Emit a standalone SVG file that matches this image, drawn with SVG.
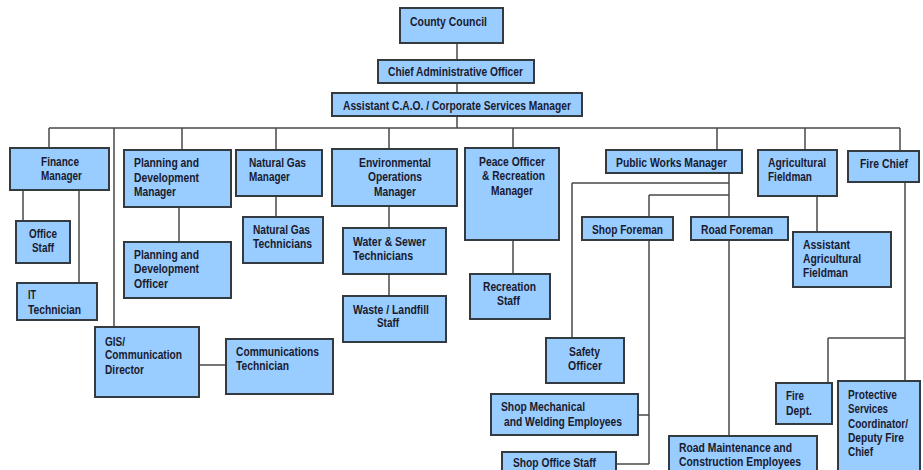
<svg xmlns="http://www.w3.org/2000/svg" width="923" height="470" viewBox="0 0 923 470">
<style>
.b{fill:#99ccff;stroke:#333a40;stroke-width:2}
.c{stroke:#4a4a4a;stroke-width:1.5;fill:none}
text{font-family:"Liberation Sans Narrow","Liberation Sans",Arial,sans-serif;font-weight:bold;font-size:12px;fill:#1a1a2e}
</style>
<rect width="923" height="470" fill="#ffffff"/>
<g id="connectors" class="c">
<path d="M457 43V128M49 128H900M49 128V148M182 128V150M276 128V150M389 128V149M513 128V148M717 128V150M805 128V150M900 128V151"/>
<path d="M114 128V327M23 190V221M79 190V283M179 207V242M276 196V217M389 206V296M513 240V274"/>
<path d="M729 173V436M572 183H729M572 183V338M649 195H729M649 195V464M638 415H649M616 464H649"/>
<path d="M817 196V232M905 182V381M828 338H905M828 338V383M199 365H226"/>
</g>
<g id="n-council"><rect class="b" x="400" y="8" width="103" height="35"/><text x="410" y="26" textLength="77" lengthAdjust="spacingAndGlyphs">County Council</text></g>
<g id="n-cao"><rect class="b" x="378" y="60" width="156" height="23"/><text x="388" y="76" textLength="135" lengthAdjust="spacingAndGlyphs">Chief Administrative Officer</text></g>
<g id="n-acao"><rect class="b" x="332" y="93" width="250" height="23"/><text x="343" y="110" textLength="228" lengthAdjust="spacingAndGlyphs">Assistant C.A.O. / Corporate Services Manager</text></g>
<g id="n-finance"><rect class="b" x="10" y="148" width="99" height="42"/><text x="41" y="166" textLength="38" lengthAdjust="spacingAndGlyphs">Finance</text><text x="41" y="180" textLength="41" lengthAdjust="spacingAndGlyphs">Manager</text></g>
<g id="n-office"><rect class="b" x="16" y="221" width="54" height="42"/><text x="29" y="238" textLength="28" lengthAdjust="spacingAndGlyphs">Office</text><text x="32" y="252" textLength="22" lengthAdjust="spacingAndGlyphs">Staff</text></g>
<g id="n-it"><rect class="b" x="17" y="283" width="80" height="37"/><text x="28" y="299" textLength="8" lengthAdjust="spacingAndGlyphs">IT</text><text x="28" y="314" textLength="53" lengthAdjust="spacingAndGlyphs">Technician</text></g>
<g id="n-pdm"><rect class="b" x="124" y="150" width="107" height="57"/><text x="134" y="167" textLength="65" lengthAdjust="spacingAndGlyphs">Planning and</text><text x="134" y="182" textLength="65" lengthAdjust="spacingAndGlyphs">Development</text><text x="134" y="196" textLength="42" lengthAdjust="spacingAndGlyphs">Manager</text></g>
<g id="n-pdo"><rect class="b" x="124" y="242" width="107" height="56"/><text x="134" y="259" textLength="65" lengthAdjust="spacingAndGlyphs">Planning and</text><text x="134" y="273" textLength="65" lengthAdjust="spacingAndGlyphs">Development</text><text x="134" y="288" textLength="34" lengthAdjust="spacingAndGlyphs">Officer</text></g>
<g id="n-ngm"><rect class="b" x="236" y="150" width="86" height="46"/><text x="249" y="167" textLength="57" lengthAdjust="spacingAndGlyphs">Natural Gas</text><text x="249" y="181" textLength="41" lengthAdjust="spacingAndGlyphs">Manager</text></g>
<g id="n-ngt"><rect class="b" x="243" y="217" width="80" height="46"/><text x="253" y="234" textLength="57" lengthAdjust="spacingAndGlyphs">Natural Gas</text><text x="253" y="248" textLength="59" lengthAdjust="spacingAndGlyphs">Technicians</text></g>
<g id="n-gis"><rect class="b" x="95" y="327" width="104" height="70"/><text x="105" y="346" textLength="20" lengthAdjust="spacingAndGlyphs">GIS/</text><text x="105" y="359" textLength="77" lengthAdjust="spacingAndGlyphs">Communication</text><text x="105" y="374" textLength="39" lengthAdjust="spacingAndGlyphs">Director</text></g>
<g id="n-commtech"><rect class="b" x="226" y="339" width="107" height="55"/><text x="236" y="356" textLength="83" lengthAdjust="spacingAndGlyphs">Communications</text><text x="236" y="370" textLength="53" lengthAdjust="spacingAndGlyphs">Technician</text></g>
<g id="n-env"><rect class="b" x="332" y="149" width="125" height="57"/><text x="359" y="167" textLength="72" lengthAdjust="spacingAndGlyphs">Environmental</text><text x="368" y="181" textLength="54" lengthAdjust="spacingAndGlyphs">Operations</text><text x="374" y="196" textLength="42" lengthAdjust="spacingAndGlyphs">Manager</text></g>
<g id="n-water"><rect class="b" x="343" y="228" width="103" height="46"/><text x="353" y="246" textLength="73" lengthAdjust="spacingAndGlyphs">Water &amp; Sewer</text><text x="353" y="260" textLength="60" lengthAdjust="spacingAndGlyphs">Technicians</text></g>
<g id="n-waste"><rect class="b" x="343" y="296" width="103" height="46"/><text x="353" y="314" textLength="76" lengthAdjust="spacingAndGlyphs">Waste / Landfill</text><text x="377" y="327" textLength="22" lengthAdjust="spacingAndGlyphs">Staff</text></g>
<g id="n-peace"><rect class="b" x="465" y="148" width="94" height="92"/><text x="479" y="166" textLength="66" lengthAdjust="spacingAndGlyphs">Peace Officer</text><text x="482" y="180" textLength="63" lengthAdjust="spacingAndGlyphs">&amp; Recreation</text><text x="491" y="195" textLength="42" lengthAdjust="spacingAndGlyphs">Manager</text></g>
<g id="n-rec"><rect class="b" x="470" y="274" width="80" height="45"/><text x="483" y="291" textLength="53" lengthAdjust="spacingAndGlyphs">Recreation</text><text x="497" y="305" textLength="23" lengthAdjust="spacingAndGlyphs">Staff</text></g>
<g id="n-pwm"><rect class="b" x="606" y="150" width="136" height="23"/><text x="616" y="167" textLength="111" lengthAdjust="spacingAndGlyphs">Public Works Manager</text></g>
<g id="n-shopf"><rect class="b" x="582" y="217" width="91" height="23"/><text x="592" y="234" textLength="71" lengthAdjust="spacingAndGlyphs">Shop Foreman</text></g>
<g id="n-roadf"><rect class="b" x="691" y="217" width="97" height="23"/><text x="701" y="234" textLength="72" lengthAdjust="spacingAndGlyphs">Road Foreman</text></g>
<g id="n-safety"><rect class="b" x="546" y="338" width="78" height="45"/><text x="569" y="356" textLength="31" lengthAdjust="spacingAndGlyphs">Safety</text><text x="568" y="370" textLength="34" lengthAdjust="spacingAndGlyphs">Officer</text></g>
<g id="n-shopmech"><rect class="b" x="491" y="394" width="147" height="41"/><text x="501" y="411" textLength="84" lengthAdjust="spacingAndGlyphs">Shop Mechanical</text><text x="504" y="426" textLength="118" lengthAdjust="spacingAndGlyphs">and Welding Employees</text></g>
<g id="n-shopoffice"><rect class="b" x="502" y="452" width="114" height="30"/><text x="513" y="467" textLength="83" lengthAdjust="spacingAndGlyphs">Shop Office Staff</text></g>
<g id="n-roadmaint"><rect class="b" x="669" y="436" width="148" height="46"/><text x="679" y="452" textLength="113" lengthAdjust="spacingAndGlyphs">Road Maintenance and</text><text x="679" y="466" textLength="122" lengthAdjust="spacingAndGlyphs">Construction Employees</text></g>
<g id="n-agri"><rect class="b" x="758" y="150" width="79" height="46"/><text x="768" y="167" textLength="58" lengthAdjust="spacingAndGlyphs">Agricultural</text><text x="768" y="181" textLength="44" lengthAdjust="spacingAndGlyphs">Fieldman</text></g>
<g id="n-asstagri"><rect class="b" x="793" y="232" width="98" height="55"/><text x="803" y="249" textLength="47" lengthAdjust="spacingAndGlyphs">Assistant</text><text x="803" y="263" textLength="58" lengthAdjust="spacingAndGlyphs">Agricultural</text><text x="803" y="277" textLength="45" lengthAdjust="spacingAndGlyphs">Fieldman</text></g>
<g id="n-firechief"><rect class="b" x="848" y="151" width="71" height="31"/><text x="860" y="168" textLength="48" lengthAdjust="spacingAndGlyphs">Fire Chief</text></g>
<g id="n-firedept"><rect class="b" x="776" y="383" width="56" height="41"/><text x="786" y="400" textLength="18" lengthAdjust="spacingAndGlyphs">Fire</text><text x="786" y="415" textLength="26" lengthAdjust="spacingAndGlyphs">Dept.</text></g>
<g id="n-protective"><rect class="b" x="838" y="381" width="82" height="100"/><text x="848" y="399" textLength="49" lengthAdjust="spacingAndGlyphs">Protective</text><text x="848" y="413" textLength="40" lengthAdjust="spacingAndGlyphs">Services</text><text x="848" y="428" textLength="60" lengthAdjust="spacingAndGlyphs">Coordinator/</text><text x="848" y="442" textLength="56" lengthAdjust="spacingAndGlyphs">Deputy Fire</text><text x="848" y="456" textLength="25" lengthAdjust="spacingAndGlyphs">Chief</text></g>
</svg>
